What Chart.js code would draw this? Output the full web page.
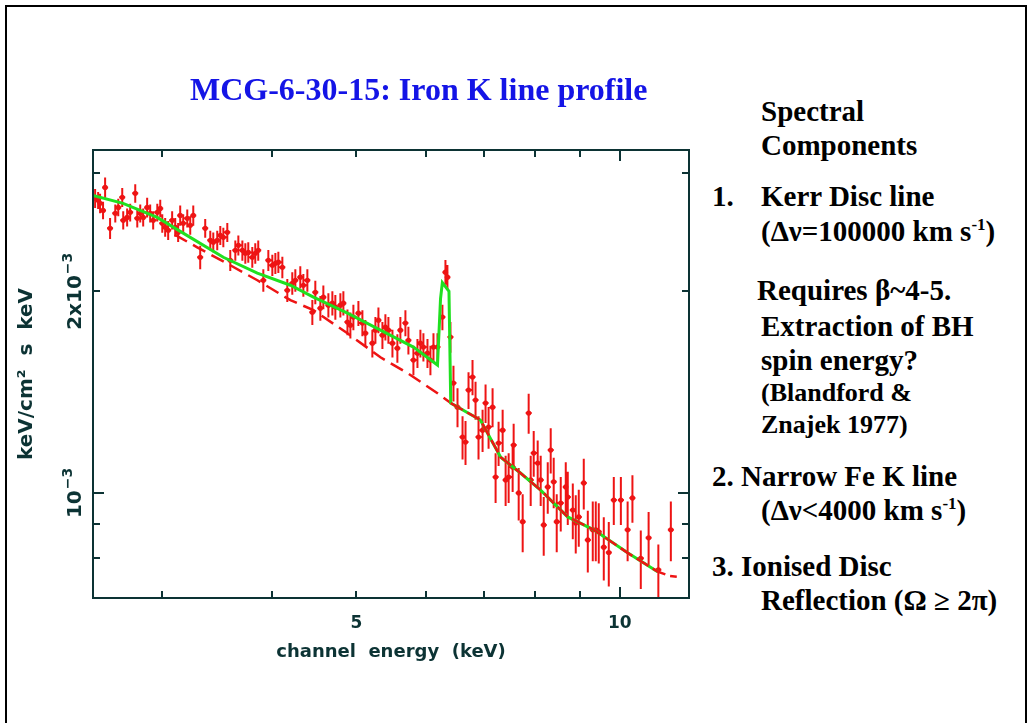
<!DOCTYPE html>
<html>
<head>
<meta charset="utf-8">
<script src="https://cdn.jsdelivr.net/npm/chart.js@4.4.1/dist/chart.umd.min.js"></script>
<style>
  html, body { margin: 0; padding: 0; background: #fff; }
  #page { position: relative; width: 1034px; height: 723px; overflow: hidden; background: #fff; }
  #frame { position: absolute; left: 5px; top: 5px; width: 1018px; height: 760px; border: 2px solid #000; }
  #plot { position: absolute; left: 0; top: 0; }
  .t { position: absolute; font-family: "Liberation Serif", "Times New Roman", serif; font-weight: bold;
       line-height: 1; white-space: nowrap; color: #000; font-size: 29px; }
  .sm { font-size: 26px; }
  .sup { font-size: 17px; position: relative; top: -11px; }
  #title { position: absolute; left: 190px; top: 73px; font-family: "Liberation Serif", serif; font-weight: bold;
           font-size: 32px; line-height: 1; color: #1414e6; white-space: nowrap; }
</style>
</head>
<body>
<div id="page">
  <div id="frame"></div>
  <canvas id="plot" width="700" height="680"></canvas>
  <div id="title">MCG-6-30-15: Iron K line profile</div>

  <div class="t" style="left:761px; top:97px">Spectral</div>
  <div class="t" style="left:761px; top:131px">Components</div>
  <div class="t" style="left:712px; top:182px">1.</div>
  <div class="t" style="left:761px; top:182px">Kerr Disc line</div>
  <div class="t" style="left:761px; top:217px">(Δν=100000 km s<span class="sup">-1</span>)</div>
  <div class="t" style="left:757px; top:276px">Requires β~4-5.</div>
  <div class="t" style="left:761px; top:312px">Extraction of BH</div>
  <div class="t" style="left:761px; top:346px">spin energy?</div>
  <div class="t sm" style="left:761px; top:380px">(Blandford &amp;</div>
  <div class="t sm" style="left:761px; top:412px">Znajek 1977)</div>
  <div class="t" style="left:712px; top:462px">2. Narrow Fe K line</div>
  <div class="t" style="left:761px; top:496px">(Δν&lt;4000 km s<span class="sup">-1</span>)</div>
  <div class="t" style="left:712px; top:552px">3. Ionised Disc</div>
  <div class="t" style="left:761px; top:586px">Reflection (Ω ≥ 2π)</div>
</div>

<script>
// flux values below are in units of 1e-3 keV/cm^2 s keV
const FLUX_UNIT = 1e-3;

// observed spectrum: channel energy (keV), flux, 1-sigma error
const pointE = [
  2.514, 2.534, 2.547, 2.567, 2.581, 2.615, 2.651, 2.672, 2.700, 2.707,
  2.735, 2.757, 2.794, 2.809, 2.831, 2.853, 2.883, 2.906, 2.929, 2.961,
  2.984, 3.000, 3.023, 3.047, 3.079, 3.104, 3.128, 3.145, 3.170, 3.204,
  3.229, 3.255, 3.315, 3.359, 3.404, 3.431, 3.467, 3.495, 3.523, 3.560,
  3.588, 3.636, 3.665, 3.704, 3.733, 3.762, 3.802, 3.832, 3.862, 3.914,
  3.966, 4.008, 4.040, 4.072, 4.115, 4.169, 4.224, 4.258, 4.314, 4.349,
  4.395, 4.453, 4.488, 4.548, 4.584, 4.645, 4.694, 4.731, 4.794, 4.832,
  4.884, 4.922, 4.961, 5.027, 5.080, 5.120, 5.215, 5.257, 5.299, 5.355,
  5.397, 5.440, 5.498, 5.570, 5.614, 5.689, 5.734, 5.810, 5.872, 5.918,
  5.965, 6.029, 6.076, 6.125, 6.190, 6.271, 6.321, 6.354, 6.405, 6.456,
  6.525, 6.612, 6.664, 6.717, 6.788, 6.842, 6.896, 6.970, 7.025, 7.081,
  7.156, 7.213, 7.270, 7.348, 7.406, 7.465, 7.544, 7.564, 7.665, 7.746,
  7.869, 7.911, 7.974, 8.058, 8.122, 8.187, 8.274, 8.339, 8.405, 8.472,
  8.562, 8.676, 8.722, 8.838, 8.907, 8.978, 9.097, 9.194, 9.315, 9.389,
  9.463, 9.589, 9.716, 9.845, 10.03, 10.21, 10.34, 10.57, 10.79, 11.07,
  11.44
];
const pointF = [
  2.753, 2.734, 2.706, 2.641, 2.858, 2.483, 2.614, 2.668, 2.762, 2.552,
  2.578, 2.623, 2.800, 2.570, 2.614, 2.578, 2.668, 2.614, 2.552, 2.623,
  2.659, 2.526, 2.492, 2.466, 2.552, 2.492, 2.449, 2.596, 2.526, 2.570,
  2.509, 2.596, 2.248, 2.483, 2.383, 2.367, 2.383, 2.424, 2.407, 2.449,
  2.225, 2.302, 2.342, 2.302, 2.279, 2.286, 2.248, 2.279, 2.302, 2.077,
  2.225, 2.187, 2.202, 2.210, 2.172, 2.007, 2.056, 2.077, 2.099, 2.042,
  2.077, 1.861, 1.993, 1.887, 1.960, 1.907, 1.920, 1.894, 1.907, 1.920,
  1.799, 1.780, 1.830, 1.855, 1.793, 1.732, 1.673, 1.750, 1.811, 1.720,
  1.768, 1.750, 1.673, 1.645, 1.750, 1.793, 1.690, 1.579, 1.617, 1.673,
  1.651, 1.617, 1.579, 1.651, 1.651, 1.830, 2.136, 2.099, 1.709, 1.459,
  1.343, 1.212, 1.191, 1.424, 1.489, 1.376, 1.212, 1.241, 1.362, 1.254,
  1.343, 1.056, 1.187, 1.241, 1.046, 1.056, 1.093, 1.179, 1.000, 0.906,
  1.316, 1.046, 1.147, 1.108, 1.046, 0.896, 1.021, 1.159, 1.039, 0.906,
  0.966, 1.021, 0.986, 0.943, 0.902, 0.921, 1.035, 0.851, 0.881, 0.881,
  0.875, 0.830, 0.815, 0.976, 0.976, 0.881, 0.983, 0.799, 0.857, 0.768,
  0.881
];
const pointErr = [
  0.09, 0.08, 0.09, 0.08, 0.10, 0.09, 0.08, 0.08, 0.09, 0.08,
  0.08, 0.08, 0.09, 0.08, 0.08, 0.08, 0.09, 0.08, 0.08, 0.08,
  0.08, 0.08, 0.08, 0.08, 0.08, 0.08, 0.08, 0.09, 0.08, 0.08,
  0.08, 0.09, 0.09, 0.08, 0.08, 0.08, 0.08, 0.08, 0.08, 0.08,
  0.08, 0.08, 0.08, 0.08, 0.08, 0.08, 0.08, 0.08, 0.08, 0.08,
  0.08, 0.08, 0.08, 0.08, 0.08, 0.08, 0.08, 0.08, 0.08, 0.08,
  0.08, 0.08, 0.08, 0.08, 0.08, 0.08, 0.08, 0.08, 0.08, 0.08,
  0.08, 0.08, 0.08, 0.08, 0.08, 0.08, 0.08, 0.08, 0.08, 0.08,
  0.08, 0.08, 0.08, 0.08, 0.08, 0.08, 0.08, 0.08, 0.08, 0.08,
  0.08, 0.08, 0.08, 0.08, 0.08, 0.08, 0.09, 0.09, 0.09, 0.09,
  0.09, 0.09, 0.09, 0.09, 0.09, 0.09, 0.09, 0.09, 0.09, 0.09,
  0.09, 0.09, 0.09, 0.09, 0.09, 0.09, 0.09, 0.09, 0.09, 0.09,
  0.09, 0.09, 0.09, 0.09, 0.09, 0.09, 0.09, 0.09, 0.09, 0.09,
  0.09, 0.09, 0.09, 0.09, 0.09, 0.09, 0.09, 0.09, 0.09, 0.09,
  0.09, 0.09, 0.09, 0.08, 0.08, 0.09, 0.08, 0.08, 0.08, 0.07,
  0.09
];

// best-fit model (green): Kerr disc line + narrow Fe K line + reflection
const modelE = [2.50, 2.706, 2.960, 3.229, 3.523, 3.853, 4.203, 4.466, 4.884, 5.327,
                5.810, 6.190, 6.240, 6.270, 6.380, 6.410, 6.930, 7.310, 7.700, 8.120,
                8.720, 9.340, 10.21, 11.05];
const modelF = [2.780, 2.705, 2.578, 2.407, 2.248, 2.128, 2.042, 1.960, 1.855, 1.750,
                1.651, 1.552, 1.950, 2.060, 2.000, 1.362, 1.285, 1.131, 1.071, 1.010,
                0.921, 0.881, 0.814, 0.763];

// continuum without the broad line (red dashed, then solid above the edge)
const contE = [3.100, 3.289, 3.588, 3.853, 4.203, 4.466, 4.884, 5.327, 5.719, 6.190, 6.410];
const contF = [2.430, 2.326, 2.187, 2.077, 1.940, 1.874, 1.731, 1.594, 1.510, 1.409, 1.362];
const tailE = [6.410, 6.930, 7.310, 7.700, 8.120, 8.720, 9.340, 10.21, 11.05, 11.40, 11.62];
const tailF = [1.362, 1.285, 1.131, 1.071, 1.010, 0.921, 0.881, 0.814, 0.763, 0.752, 0.750];

// axes
const xTickLabels = [5, 10];
const xMinorTicks = [3, 4, 5, 6, 7, 8, 9];
const xMajorTicks = [10];
const yTickValues = [1e-3, 2e-3];
const yTickBase = ['10', '2x10'];
const yTickExp = ['−3', '−3'];
const yMinorTicks = [8e-4, 9e-4, 2e-3, 3e-3];
const yMajorTicks = [1e-3];

const AXIS = '#0c3334';
const RED = '#ee1414';
const GREEN = '#20e020';

Chart.defaults.font.family = '"DejaVu Sans", sans-serif';
Chart.defaults.color = AXIS;

const toXY = (xs, ys) => xs.map((v, i) => ({ x: v, y: ys[i] * FLUX_UNIT }));

// error bars: drawn under the lines, like the original plot
const errorBars = {
  id: 'errorBars',
  beforeDatasetsDraw(chart) {
    const { ctx, chartArea: a, scales: { x, y } } = chart;
    ctx.save();
    ctx.beginPath();
    ctx.rect(a.left, a.top, a.right - a.left, a.bottom - a.top);
    ctx.clip();
    ctx.strokeStyle = RED;
    ctx.lineWidth = 2;
    ctx.beginPath();
    pointE.forEach((e, i) => {
      const f = pointF[i] * FLUX_UNIT;
      const d = pointErr[i] * FLUX_UNIT;
      const px = x.getPixelForValue(e);
      const py = y.getPixelForValue(f);
      ctx.moveTo(px, y.getPixelForValue(f + d));
      ctx.lineTo(px, y.getPixelForValue(f - d));
      ctx.moveTo(px - 3, py);
      ctx.lineTo(px + 3, py);
    });
    ctx.stroke();
    ctx.restore();
  }
};

// box frame with inward ticks on all four sides, rotated y labels with exponents
const frameTicks = {
  id: 'frameTicks',
  afterDraw(chart) {
    const { ctx, chartArea: a, scales: { x, y } } = chart;
    ctx.save();
    ctx.strokeStyle = AXIS;
    ctx.lineWidth = 2;
    ctx.strokeRect(a.left, a.top, a.right - a.left, a.bottom - a.top);
    ctx.beginPath();
    const xt = (v, len) => {
      const px = Math.round(x.getPixelForValue(v));
      ctx.moveTo(px, a.bottom); ctx.lineTo(px, a.bottom - len);
      ctx.moveTo(px, a.top); ctx.lineTo(px, a.top + len);
    };
    const yt = (v, len) => {
      const py = Math.round(y.getPixelForValue(v));
      ctx.moveTo(a.left, py); ctx.lineTo(a.left + len, py);
      ctx.moveTo(a.right, py); ctx.lineTo(a.right - len, py);
    };
    xMinorTicks.forEach(v => xt(v, 7));
    xMajorTicks.forEach(v => xt(v, 11));
    yMinorTicks.forEach(v => yt(v, 7));
    yMajorTicks.forEach(v => yt(v, 11));
    ctx.stroke();

    ctx.fillStyle = AXIS;
    ctx.textAlign = 'left';
    ctx.textBaseline = 'alphabetic';
    const baseFont = 'bold 20px "DejaVu Sans", sans-serif';
    const expFont = 'bold 14px "DejaVu Sans", sans-serif';
    yTickValues.forEach((v, i) => {
      ctx.font = baseFont;
      const wb = ctx.measureText(yTickBase[i]).width;
      ctx.font = expFont;
      const we = ctx.measureText(yTickExp[i]).width;
      const start = -(wb + we + 1) / 2;
      ctx.save();
      ctx.translate(81, y.getPixelForValue(v));
      ctx.rotate(-Math.PI / 2);
      ctx.font = baseFont;
      ctx.fillText(yTickBase[i], start, 0);
      ctx.font = expFont;
      ctx.fillText(yTickExp[i], start + wb + 1, -9);
      ctx.restore();
    });
    ctx.restore();
  }
};

new Chart(document.getElementById('plot'), {
  type: 'scatter',
  data: {
    datasets: [
      {
        label: 'continuum above edge',
        data: toXY(tailE, tailF),
        showLine: true, borderColor: RED, borderWidth: 2.5, borderDash: [14, 5],
        pointRadius: 0, order: 1
      },
      {
        label: 'model',
        data: toXY(modelE, modelF),
        showLine: true, borderColor: GREEN, borderWidth: 3,
        pointRadius: 0, order: 2
      },
      {
        label: 'continuum',
        data: toXY(contE, contF),
        showLine: true, borderColor: RED, borderWidth: 2.5, borderDash: [14, 7],
        pointRadius: 0, order: 3
      },
      {
        label: 'data',
        data: toXY(pointE, pointF),
        pointRadius: 2.6, pointBackgroundColor: RED, pointBorderWidth: 0,
        order: 4
      }
    ]
  },
  options: {
    responsive: false,
    animation: false,
    devicePixelRatio: 1,
    layout: { padding: { top: 150, right: 11, bottom: 0, left: 0 } },
    plugins: { legend: { display: false }, tooltip: { enabled: false } },
    scales: {
      x: {
        type: 'logarithmic',
        min: 2.5,
        max: 12,
        grid: { display: false },
        border: { display: false },
        afterBuildTicks: s => { s.ticks = xTickLabels.map(v => ({ value: v })); },
        afterFit: s => { s.height = 82; },
        ticks: { autoSkip: false, maxRotation: 0, padding: 7, font: { size: 17, weight: 'bold' }, callback: v => String(v) },
        title: { display: true, text: 'channel  energy  (keV)', font: { size: 18, weight: 'bold' }, padding: { top: 0, bottom: 17 } }
      },
      y: {
        type: 'logarithmic',
        min: 6.97e-4,
        max: 3.25e-3,
        grid: { display: false },
        border: { display: false },
        ticks: { display: false },
        afterFit: s => { s.width = 93; },
        title: { display: true, text: 'keV/cm²  s  keV', font: { size: 20, weight: 'bold' }, padding: { top: 15, bottom: 0 } }
      }
    }
  },
  plugins: [errorBars, frameTicks]
});
</script>
</body>
</html>
